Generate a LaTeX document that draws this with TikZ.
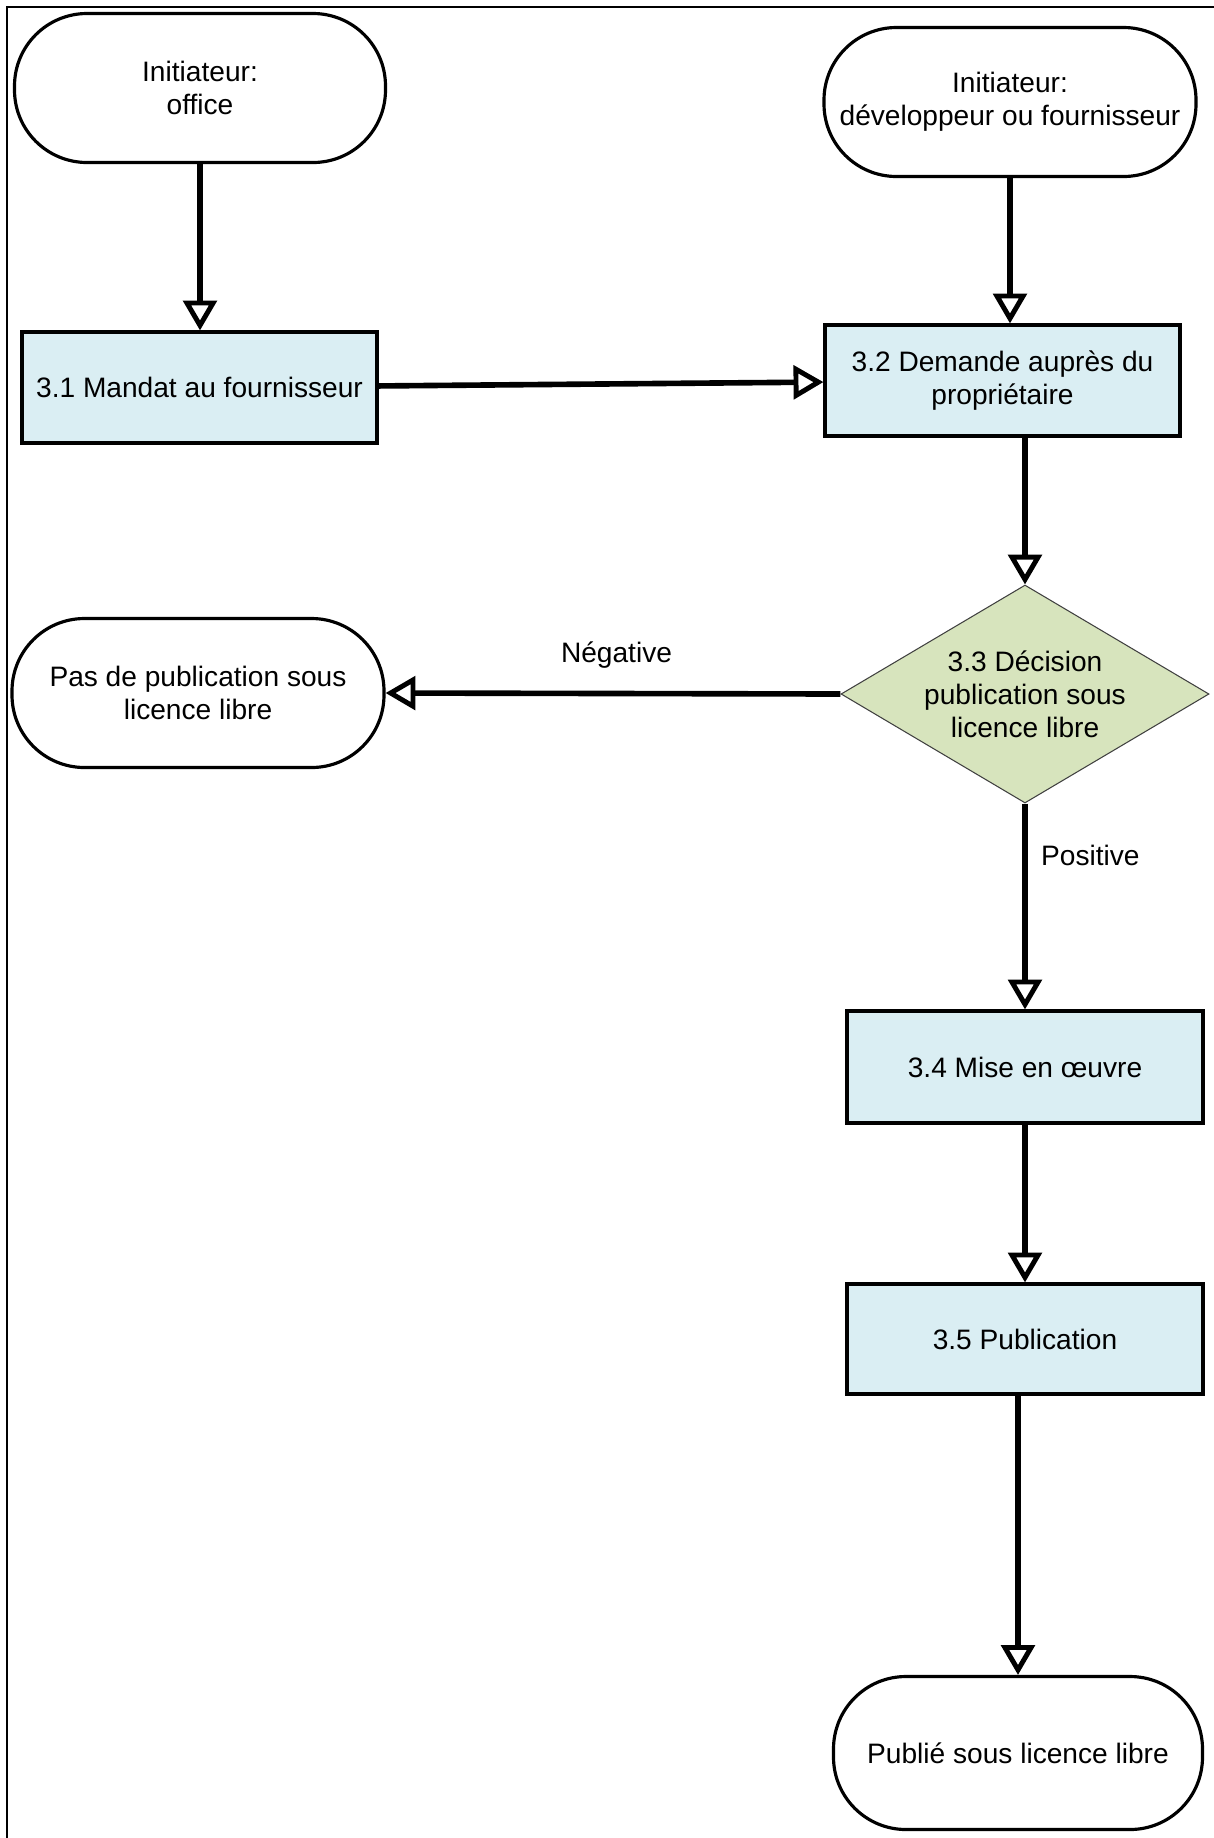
\documentclass[tikz,border=0pt]{standalone}
\usepackage{fontspec}
\setmainfont{Liberation Sans}
\usetikzlibrary{arrows.meta,shapes.geometric}
\definecolor{procblue}{HTML}{DAEEF3}
\definecolor{decgreen}{HTML}{D7E4BD}

\begin{document}
\begin{tikzpicture}[font=\fontsize{16}{18.8}\selectfont,
	term/.style={rectangle,rounded corners=1.45cm,draw,line width=1.8pt,fill=white,align=center,minimum width=7.42cm,minimum height=2.98cm,inner sep=0pt},
	proc/.style={rectangle,draw,line width=1.8pt,fill=procblue,align=center,minimum width=7.1cm,minimum height=2.22cm,inner sep=0pt},
	decide/.style={diamond,aspect=1.69,draw=black!75,line width=0.6pt,fill=decgreen,align=center,minimum width=7.36cm,minimum height=4.36cm,inner sep=0pt},
	flow/.style={line width=3.2pt,-{Triangle[open,length=17pt,width=19pt,line width=2.8pt]}}]
	\useasboundingbox (0,0) rectangle (24.28,-36.76);
	\draw [line width=0.04cm] (0.14,-36.76) -- (0.14,-0.14) -- (24.28,-0.14);
	\node (s1) at (4.00,-1.76) [term] {Initiateur:\\office};
	\node (s2) at (20.20,-2.04) [term,minimum width=7.44cm] {Initiateur:\\développeur ou fournisseur};
	\node (b31) at (3.99,-7.75) [proc] {3.1 Mandat au fournisseur};
	\node (b32) at (20.05,-7.61) [proc] {3.2 Demande auprès du\\propriétaire};
	\node (dec) at (20.50,-13.88) [decide] {3.3 Décision\\publication sous\\licence libre};
	\node (no) at (3.96,-13.86) [term,minimum width=7.44cm] {Pas de publication sous\\licence libre};
	\node (b34) at (20.50,-21.34) [proc,minimum width=7.12cm,minimum height=2.24cm] {3.4 Mise en œuvre};
	\node (b35) at (20.50,-26.78) [proc,minimum width=7.12cm,minimum height=2.2cm] {3.5 Publication};
	\node (yes) at (20.36,-35.06) [term,minimum width=7.38cm,minimum height=3.06cm] {Publié sous licence libre};
	\draw [flow] (s1.south) -- (s1.south |- b31.north);
	\draw [flow] (b31) -- (b32);
	\draw [flow] (s2.south) -- (s2.south |- b32.north);
	\draw [flow] (dec.north |- b32.south) -- (dec.north);
	\draw [flow] (dec.west) -- node[midway,above=0.33cm,xshift=0.07cm] {Négative} (no.east);
	\draw [flow] (dec.south) -- node[pos=0.25,right=0.15cm] {Positive} (b34.north);
	\draw [flow] (b34) -- (b35);
	\draw [flow] (yes.north |- b35.south) -- (yes.north);
\end{tikzpicture}
\end{document}
